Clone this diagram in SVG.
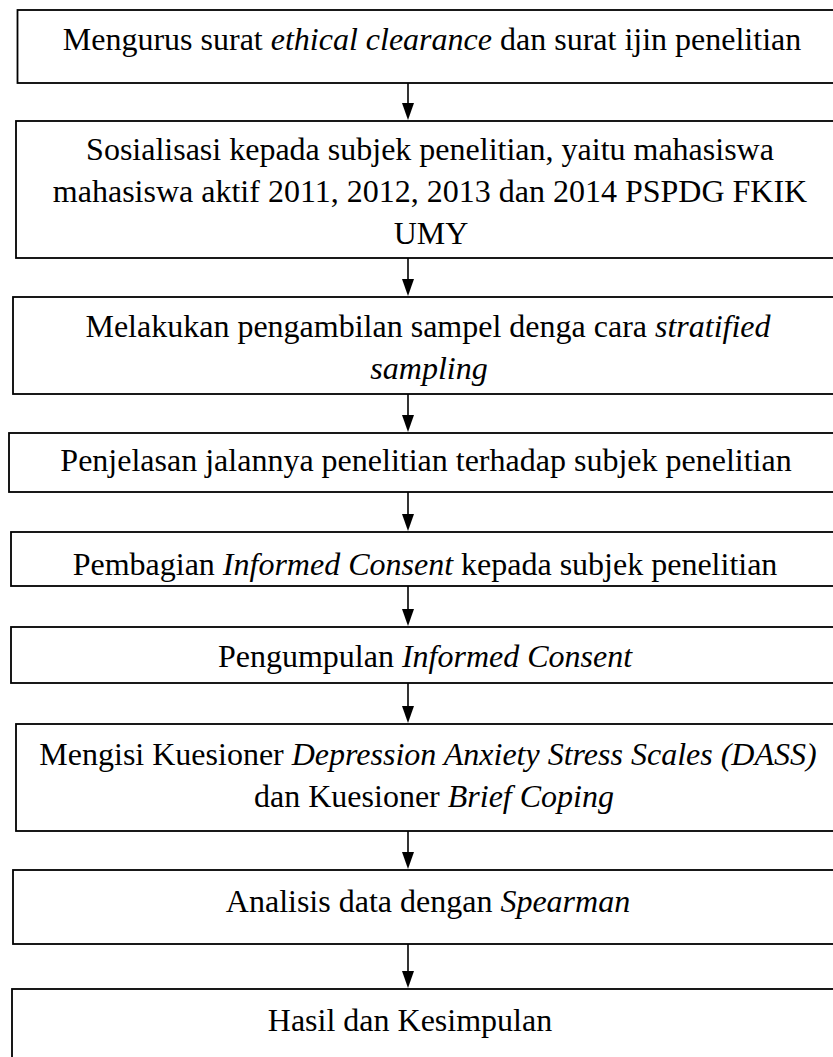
<svg xmlns="http://www.w3.org/2000/svg" width="833" height="1057" viewBox="0 0 833 1057">
<defs>
<style>
.box{fill:#fff;stroke:#000;stroke-width:1.8}
.t{font-family:"Liberation Serif","Times New Roman",serif;font-size:32px;fill:#000;text-anchor:middle}
.i{font-style:italic}
.c{stroke:#000;stroke-width:1.6;fill:none}
.h{fill:#000}
</style>
</defs>
<rect width="833" height="1057" fill="#fff"/>
<g id="connectors">
<path class="c" d="M408,83 V104"/><path class="h" d="M402,103 H414 L408,120 Z"/>
<path class="c" d="M408,258 V280"/><path class="h" d="M402,279 H414 L408,296 Z"/>
<path class="c" d="M408,394 V416"/><path class="h" d="M402,415 H414 L408,432 Z"/>
<path class="c" d="M408,492 V515"/><path class="h" d="M402,514 H414 L408,531 Z"/>
<path class="c" d="M408,586 V610"/><path class="h" d="M402,609 H414 L408,626 Z"/>
<path class="c" d="M408,683 V707"/><path class="h" d="M402,706 H414 L408,723 Z"/>
<path class="c" d="M408,831 V853"/><path class="h" d="M402,852 H414 L408,869 Z"/>
<path class="c" d="M408,944 V972"/><path class="h" d="M402,971 H414 L408,988 Z"/>
</g>
<g id="n1"><rect class="box" x="17.5" y="10" width="840" height="73"/>
<text class="t" x="432" y="50">Mengurus surat <tspan class="i">ethical clearance</tspan> dan surat ijin penelitian</text></g>
<g id="n2"><rect class="box" x="16" y="121" width="840" height="137"/>
<text class="t" x="430" y="160">Sosialisasi kepada subjek penelitian, yaitu mahasiswa</text>
<text class="t" x="430" y="202">mahasiswa aktif 2011, 2012, 2013 dan 2014 PSPDG FKIK</text>
<text class="t" x="431" y="244">UMY</text></g>
<g id="n3"><rect class="box" x="13" y="297" width="840" height="97"/>
<text class="t" x="428" y="337">Melakukan pengambilan sampel denga cara <tspan class="i">stratified</tspan></text>
<text class="t i" x="429" y="379">sampling</text></g>
<g id="n4"><rect class="box" x="9" y="433" width="840" height="59"/>
<text class="t" x="426" y="471">Penjelasan jalannya penelitian terhadap subjek penelitian</text></g>
<g id="n5"><rect class="box" x="11" y="532" width="840" height="54"/>
<text class="t" x="425" y="575">Pembagian <tspan class="i">Informed Consent</tspan> kepada subjek penelitian</text></g>
<g id="n6"><rect class="box" x="11" y="627" width="840" height="56"/>
<text class="t" x="425" y="667">Pengumpulan <tspan class="i">Informed Consent</tspan></text></g>
<g id="n7"><rect class="box" x="16" y="724" width="840" height="107"/>
<text class="t" x="428" y="765">Mengisi Kuesioner <tspan class="i">Depression Anxiety Stress Scales (DASS)</tspan></text>
<text class="t" x="434" y="807">dan Kuesioner <tspan class="i">Brief Coping</tspan></text></g>
<g id="n8"><rect class="box" x="13" y="870" width="840" height="74"/>
<text class="t" x="428" y="912">Analisis data dengan <tspan class="i">Spearman</tspan></text></g>
<g id="n9"><rect class="box" x="12" y="989" width="840" height="90"/>
<text class="t" x="410" y="1031">Hasil dan Kesimpulan</text></g>
</svg>
